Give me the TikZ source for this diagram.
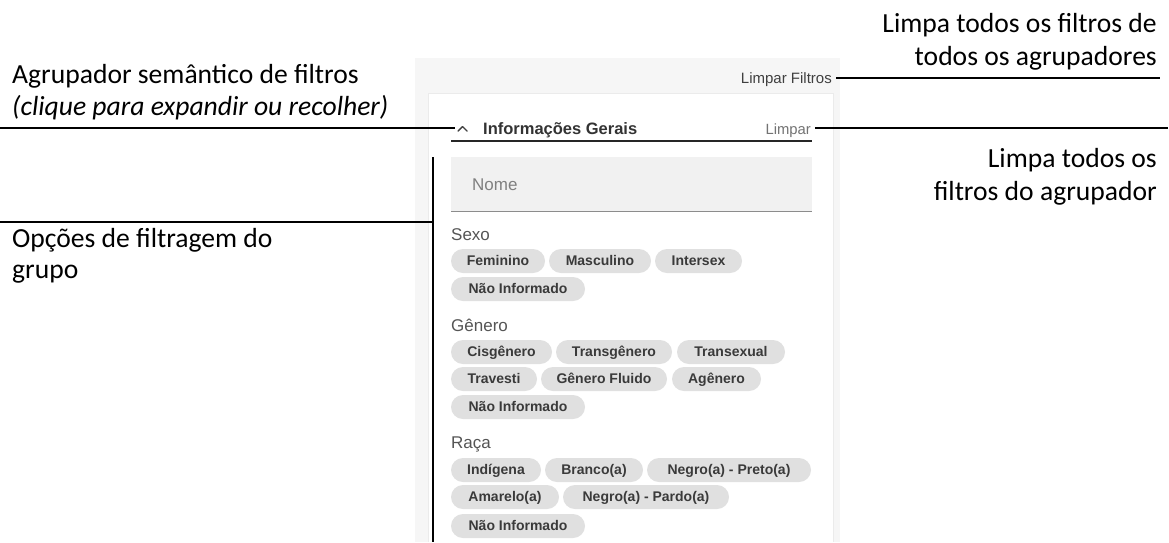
\documentclass[tikz,border=0pt]{standalone}
\usepackage{fontspec}
\setmainfont{Carlito}
\newfontfamily\ui{Liberation Sans}
\definecolor{panelbg}{HTML}{F6F6F6}
\definecolor{chipgray}{HTML}{E0E0E0}
\definecolor{chiptext}{HTML}{3A3A3A}
\definecolor{labgray}{HTML}{555555}
\definecolor{inputbg}{HTML}{F1F1F1}
\tikzset{
  ann/.style={font=\fontsize{27.6}{32}\selectfont, inner sep=0},
  lead/.style={line width=2.5pt, black},
  chip/.style={fill=chipgray, rounded corners=12pt, minimum height=24pt, inner sep=0,
    text height=11.5pt, text depth=2pt,
    font=\ui\bfseries\fontsize{14}{16}\selectfont, text=chiptext},
  grouplab/.style={font=\ui\fontsize{17}{19}\selectfont, text=labgray, anchor=base west, inner sep=0},
}
\newcommand\mychip[5]{\node[chip, minimum width={(#3-#2)*1pt}] (#1) at ({(#2+#3)/2},#4) {#5};}
\begin{document}
\begin{tikzpicture}[x=1pt,y=-1pt]
\useasboundingbox (0,0) rectangle (1169,542);
% panel
\fill[panelbg] (415,58) rectangle (840,542);
\fill[white] (428,93) rectangle (833,542);
\draw[black!8] (428,542) -- (428,93) -- (833,93) -- (833,542);
% top bar
\node[font=\ui\fontsize{15}{17}\selectfont, text=black!75, anchor=base east, inner sep=0] (lf) at (832,83) {Limpar Filtros};
% header
\draw[line width=1.4pt, black!75, line cap=round, line join=round] (458,131) -- (462.5,126.5) -- (467,131);
\coordinate (chev) at (455,128);
\node[font=\ui\bfseries\fontsize{16.5}{18}\selectfont, text=black!80, anchor=base west, inner sep=0] (hdr) at (483,134) {Informações Gerais};
\node[font=\ui\fontsize{14.8}{16}\selectfont, text=black!55, anchor=base east, inner sep=0] (lp) at (811,134) {Limpar};
\draw[line width=2.5pt, black!85] (451,141) -- (812,141);
% nome input
\fill[inputbg] (451,157) rectangle (812,211);
\draw[black!45, line width=0.8pt] (451,211) -- (812,211);
\node[font=\ui\fontsize{17}{19}\selectfont, text=black!50, anchor=base west, inner sep=0] (nome) at (472,190) {Nome};
% Sexo
\node[grouplab] (sexo) at (451,240) {Sexo};
\mychip{f1}{451}{545}{261}{Feminino}
\mychip{f2}{549}{651}{261}{Masculino}
\mychip{f3}{655}{742}{261}{Intersex}
\mychip{f4}{451}{585}{289}{Não Informado}
% Genero
\node[grouplab] (gen) at (451,331) {Gênero};
\mychip{g1}{451}{552}{352}{Cisgênero}
\mychip{g2}{556}{672}{352}{Transgênero}
\mychip{g3}{677}{785}{352}{Transexual}
\mychip{g4}{451}{537}{379}{Travesti}
\mychip{g5}{541}{667}{379}{Gênero Fluido}
\mychip{g6}{672}{761}{379}{Agênero}
\mychip{g7}{451}{585}{407}{Não Informado}
% Raca
\node[grouplab] (raca) at (451,448) {Raça};
\mychip{r1}{451}{541}{470}{Indígena}
\mychip{r2}{545}{643}{470}{Branco(a)}
\mychip{r3}{647}{811}{470}{Negro(a) - Preto(a)}
\mychip{r4}{451}{559}{497}{Amarelo(a)}
\mychip{r5}{563}{729}{497}{Negro(a) - Pardo(a)}
\mychip{r6}{451}{585}{526}{Não Informado}
% annotations
\node[ann, anchor=base west] (a1) at (12,83) {Agrupador semântico de filtros};
\node[ann, anchor=base west] (a2) at (12,115) {\itshape(clique para expandir ou recolher)};
\node[ann, anchor=base west] (o1) at (12,247) {Opções de filtragem do};
\node[ann, anchor=base west] (o2) at (12,278) {grupo};
\node[ann, anchor=base east] (t1) at (1157,32) {Limpa todos os filtros de};
\node[ann, anchor=base east] (t2) at (1157,65) {todos os agrupadores};
\node[ann, anchor=base east] (u1) at (1157,167) {Limpa todos os};
\node[ann, anchor=base east] (u2) at (1157,200) {filtros do agrupador};
% leader lines
\coordinate (lL1) at (0,128);
\coordinate (lL2) at (0,222);
\coordinate (vtop) at (433,157);
\coordinate (vbot) at (433,542);
\coordinate (rE1) at (1160,78);
\coordinate (rE2) at (1168,128);
\draw[lead] (lL1) -- (chev);
\draw[lead] (vtop) -- (vbot);
\draw[lead] (lL2) -- (lL2 -| vtop);
\draw[lead] (lf.east |- 0,78) ++(4,0) -- (rE1);
\draw[lead] (lp.east |- 0,128) ++(4,0) -- (rE2);
\end{tikzpicture}
\end{document}
